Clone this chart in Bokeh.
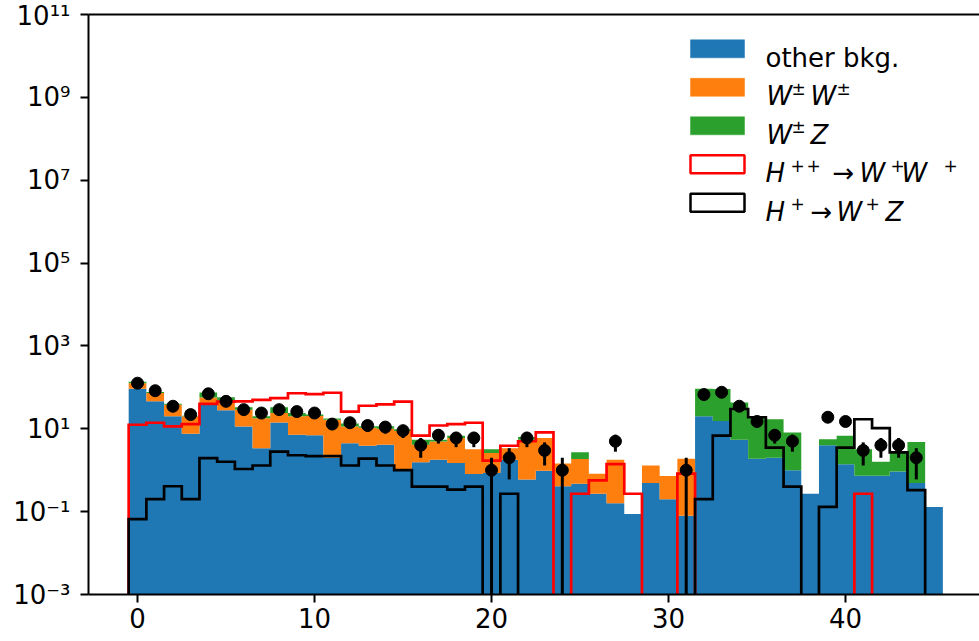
import numpy as np
from bokeh.plotting import figure
from bokeh.models import (Range1d, FixedTicker, LinearAxis, ColumnDataSource,
                          BoxAnnotation, Label, CustomJSTickFormatter)
from bokeh.embed import file_html
from bokeh.resources import INLINE

# ---------------- data ----------------
bins = list(range(46))
other_bkg = [92, 46, 20, 7.6, 38, 28, 11.4, 3.4, 14.2, 7.2, 7.0, 2.0, 4.5, 3.9, 4.1, 1.07,
             1.55, 1.8, 1.5, 0.81, 0.86, 1.8, 0.6, 0.97, 0.41, 0.47, 0.27, 0.16, 0.088, 0.49,
             0.2, 0.08, 20, 15.5, 5.4, 1.9, 2.0, 1.0, 0.27, 4.0, 1.4, 0.74, 0.74, 0.93, 0.49, 0.13]
ww = [34, 27, 18, 12.4, 19, 16, 17.3, 14.6, 9.8, 12.8, 13.4, 14.5, 6.9, 6.7, 5.9, 7.8,
      2.55, 3.1, 4.5, 2.4, 1.74, 1.6, 4.8, 5.0, 1.04, 1.39, 0.55, 1.64, 0, 0.81,
      0.53, 1.82, 0, 0, 0, 0, 0, 0, 0, 0, 0, 0, 0, 0, 0, 0]
wz = [10, 4, 2, 0.6, 18, 14, 4.3, 2, 9, 4, 1.6, 1.3, 2.1, 0.9, 1.5, 0.9,
      1.3, 0.5, 0.8, 0, 0.6, 0, 0.9, 0, 0, 0.84, 0, 0, 0, 0,
      0, 0, 73, 75.5, 37.6, 17.1, 15, 7.1, 0, 1.6, 5.4, 2.46, 0.86, 1.77, 4.31, 0]
hpp = [12.5, 14, 11.4, 13, 40, 45, 46, 50, 55, 72, 69, 74, 26, 36, 39, 45,
       6.8, 12, 13, 14, 1.7, 3.9, 5.0, 8.2, 0, 0.27, 0.57, 1.4, 0.27, 0,
       0, 0.83, 0, 0, 0, 0, 0, 0, 0, 0, 0, 0.27, 0, 0, 0, 0]
hp = [0.066, 0.2, 0.41, 0.2, 1.95, 1.6, 1.07, 1.3, 2.8, 2.3, 2.2, 2.2, 1.3, 1.9, 1.3, 1.0,
      0.4, 0.4, 0.34, 0.4, 0, 0.27, 0, 0, 0, 0, 0, 0, 0, 0,
      0, 0, 0.2, 6.8, 30, 19, 3.5, 0.4, 0, 0.13, 3.5, 17, 10.4, 2.7, 0.33, 0]
data = [126, 83, 35, 22, 70, 46, 29, 24, 29, 26, 24, 13, 14, 12, 11, 9,
        4, 7, 6, 6, 1, 2, 6, 3, 1, 0, 0, 5, 0, 0,
        0, 1, 67, 76, 35, 15, 7, 5, 0, 19, 15, 3, 4, 4, 2, 0]
data_err = [11.2, 9.1, 5.9, 4.7, 8.4, 6.8, 5.4, 4.9, 5.4, 5.1, 4.9, 3.6, 3.7, 3.5, 3.3, 3.0,
            2.0, 2.6, 2.4, 2.4, 1.0, 1.4, 2.4, 1.7, 1.0, 0, 0, 2.2, 0, 0,
            0, 1.0, 8.2, 8.7, 5.9, 3.9, 2.6, 2.2, 0, 4.4, 3.9, 1.7, 2.0, 2.0, 1.4, 0]
x_ticks = [0, 10, 20, 30, 40]
y_ticks = [1e-3, 1e-1, 1e1, 1e3, 1e5, 1e7, 1e9, 1e11]
y_tick_labels = ["10⁻³", "10⁻¹", "10¹", "10³", "10⁵", "10⁷", "10⁹", "10¹¹"]

C_BLUE, C_ORANGE, C_GREEN = "#1f77b4", "#ff7f0e", "#2ca02c"
FONT = "DejaVu Sans"
FLOOR = 1e-8

# ---------------- figure ----------------
W, H = 979, 641
ML, MR, MT, MB = 88, 0, 14, 47
XMIN, XMAX = -2.77, 47.57
YMIN, YMAX = 1e-3, 1e11

p = figure(width=W, height=H, x_range=Range1d(XMIN, XMAX), y_range=Range1d(YMIN, YMAX),
           y_axis_type="log", output_backend="svg", toolbar_location=None,
           min_border_left=ML, min_border_right=MR, min_border_top=MT, min_border_bottom=MB)
p.outline_line_color = None
p.xgrid.visible = False
p.ygrid.visible = False
p.background_fill_color = "white"
p.border_fill_color = "white"

FW = W - ML - MR
FH = H - MT - MB


def X(px):
    return XMIN + (px - ML) / FW * (XMAX - XMIN)


def Y(py):
    lo, hi = np.log10(YMIN), np.log10(YMAX)
    return 10 ** (hi - (py - MT) / FH * (hi - lo))


# ---------------- stacked histogram (filled steps) ----------------
b = np.array(bins, dtype=float)
o = np.array(other_bkg, dtype=float)
w1 = np.array(ww, dtype=float)
w2 = np.array(wz, dtype=float)

xx = np.ravel(np.column_stack([b - 0.5, b + 0.5]))


def dbl(v):
    return np.repeat(np.asarray(v, dtype=float), 2)


lvl0 = np.full_like(o, FLOOR)
lvl1 = o
lvl2 = o + w1
lvl3 = o + w1 + w2
p.varea(x=xx, y1=dbl(lvl0), y2=dbl(lvl1), fill_color=C_BLUE)
p.varea(x=xx, y1=dbl(lvl1), y2=dbl(lvl2), fill_color=C_ORANGE)
p.varea(x=xx, y1=dbl(lvl2), y2=dbl(lvl3), fill_color=C_GREEN)


# ---------------- step outlines ----------------
def step_xy(vals):
    xs, ys = [bins[0] - 0.5], [FLOOR]
    for i, v in zip(bins, vals):
        vv = v if v > 0 else FLOOR
        xs += [i - 0.5, i + 0.5]
        ys += [vv, vv]
    xs.append(bins[-1] + 0.5)
    ys.append(FLOOR)
    return xs, ys


xs, ys = step_xy(hpp)
p.line(xs, ys, line_color="red", line_width=2.7, line_join="miter")
xs, ys = step_xy(hp)
p.line(xs, ys, line_color="black", line_width=2.7, line_join="miter")

# ---------------- data points ----------------
d = np.array(data, dtype=float)
e = np.array(data_err, dtype=float)
m = d > 0
lo = np.maximum(d[m] - e[m], FLOOR)
hi = d[m] + e[m]
src_d = ColumnDataSource(dict(x=b[m], y=d[m], lo=lo, hi=hi))
p.segment(x0="x", y0="lo", x1="x", y1="hi", source=src_d, line_color="black", line_width=3)
p.scatter(x="x", y="y", source=src_d, size=12, fill_color="black", line_color="black")

# ---------------- axes ----------------
for ax in (p.xaxis[0], p.yaxis[0]):
    ax.axis_line_width = 2
    ax.axis_line_color = "black"
    ax.major_tick_line_width = 2
    ax.major_tick_line_color = "black"
    ax.major_tick_out = 8
    ax.major_tick_in = 0
    ax.minor_tick_line_color = None
    ax.major_label_text_font = FONT
    ax.major_label_text_font_size = "26px"
    ax.major_label_text_color = "black"

p.xaxis.ticker = FixedTicker(ticks=x_ticks)
p.xaxis.major_label_standoff = 5
p.yaxis.ticker = FixedTicker(ticks=y_ticks, minor_ticks=[])
p.yaxis.major_label_standoff = 10
p.yaxis.formatter = CustomJSTickFormatter(args=dict(tv=y_ticks, tl=y_tick_labels), code="""
for (let i = 0; i < tv.length; i++) {
  if (Math.abs(Math.log10(tick) - Math.log10(tv[i])) < 1e-6) { return tl[i]; }
}
return "";
""")

top_axis = LinearAxis(ticker=FixedTicker(ticks=[]), axis_line_width=2, axis_line_color="black",
                      major_tick_line_color=None, minor_tick_line_color=None,
                      major_label_text_font_size="0px", major_label_standoff=0,
                      axis_label_standoff=0)
p.add_layout(top_axis, "above")

# ---------------- legend (mathtext-like composition) ----------------
patch_left, patch_right, patch_h = 690, 744, 18
row_base = [57.3, 95.8, 134.3, 172.8, 211.3]
fills = [C_BLUE, C_ORANGE, C_GREEN, None, None]
edges = [C_BLUE, C_ORANGE, C_GREEN, "red", "black"]
for rb, fc, ec in zip(row_base, fills, edges):
    box = BoxAnnotation(left=X(patch_left), right=X(patch_right),
                        top=Y(rb - patch_h), bottom=Y(rb),
                        fill_color=fc if fc else "white", fill_alpha=1.0,
                        line_color=ec, line_alpha=1.0,
                        line_width=2.5 if fc is None else 0.5)
    p.add_layout(box)


def lab(px, py, text, size="26px", italic=False, align="left"):
    p.add_layout(Label(x=X(px), y=Y(py), text=text, text_font=FONT, text_font_size=size,
                       text_font_style="italic" if italic else "normal",
                       text_align=align, text_baseline="alphabetic", text_color="black"))


def sup(px, py, text, raise_px=8):
    lab(px, py - raise_px, text, size="17px", align="center")


# row 1
lab(765, row_base[0], "other bkg.")
# row 2: W±W±
lab(766, row_base[1], "W", italic=True)
sup(798, row_base[1], "±", 7.5)
lab(810, row_base[1], "W", italic=True)
sup(843, row_base[1], "±", 7.5)
# row 3: W±Z
lab(766, row_base[2], "W", italic=True)
sup(798, row_base[2], "±", 7.5)
lab(810, row_base[2], "Z", italic=True)
# row 4: H++ -> W+W+
lab(765, row_base[3], "H", italic=True)
sup(797, row_base[3], "+")
sup(813, row_base[3], "+")
lab(843, row_base[3], "→", align="center")
lab(859, row_base[3], "W", italic=True)
sup(897, row_base[3], "+")
lab(901, row_base[3], "W", italic=True)
sup(950, row_base[3], "+")
# row 5: H+ -> W+Z
lab(765, row_base[4], "H", italic=True)
sup(797, row_base[4], "+")
lab(821, row_base[4], "→", align="center")
lab(836, row_base[4], "W", italic=True)
sup(872, row_base[4], "+")
lab(885, row_base[4], "Z", italic=True)

open("out.html", "w").write(file_html(p, INLINE))
